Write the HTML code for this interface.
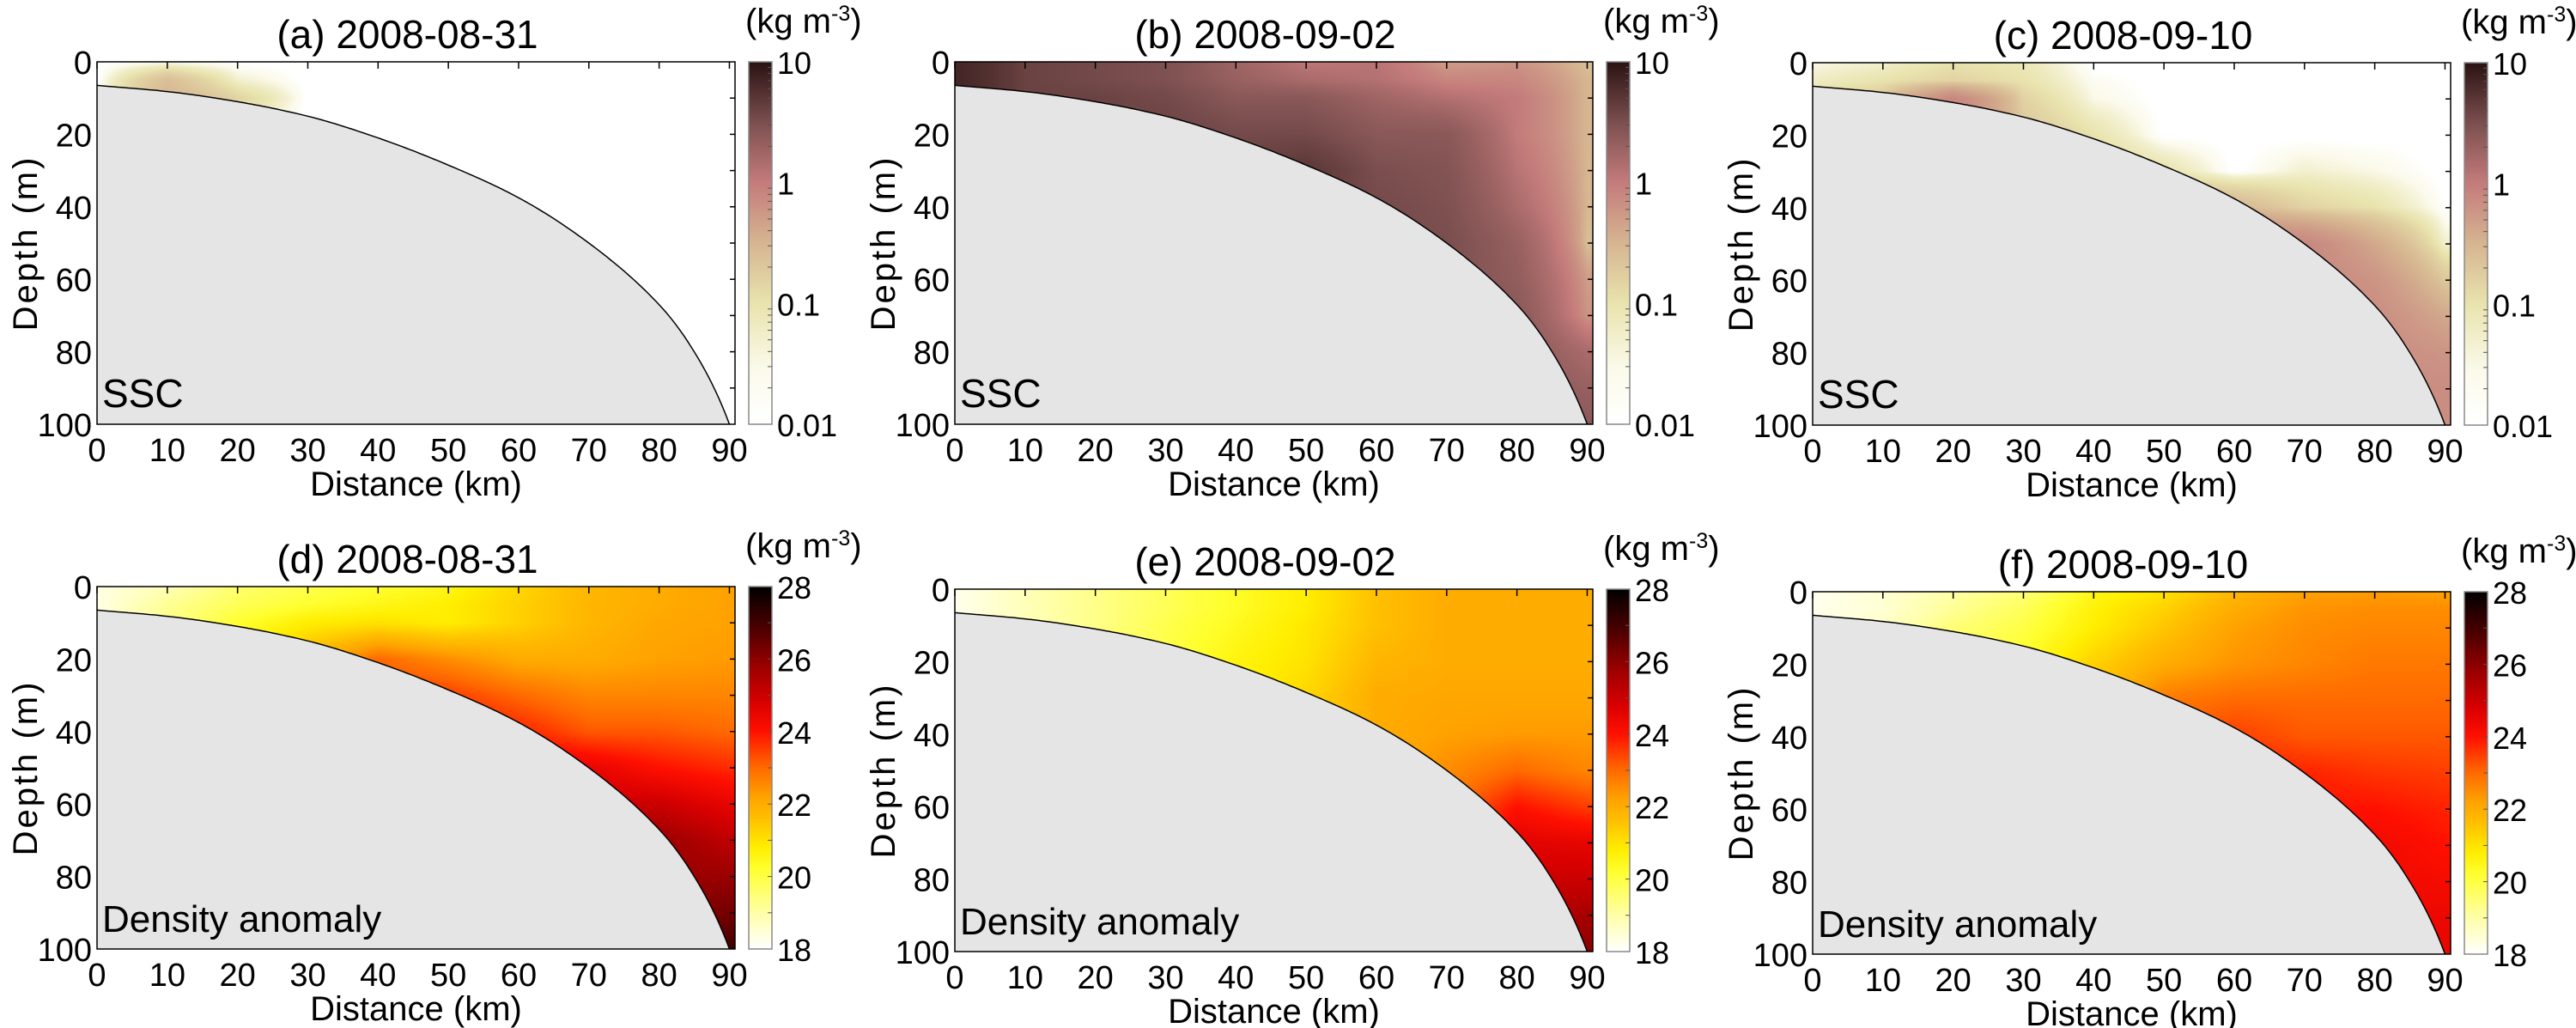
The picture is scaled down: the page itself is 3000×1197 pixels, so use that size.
<!DOCTYPE html>
<html><head><meta charset="utf-8">
<style>
html,body{margin:0;padding:0;background:#fff;}
#wrap{position:relative;width:3000px;height:1197px;overflow:hidden;}
canvas,svg{position:absolute;left:0;top:0;}
text{font-family:"Liberation Sans",Arial,sans-serif;fill:#000;}
</style></head>
<body>
<div id="wrap">
<canvas id="cv" width="3000" height="1197"></canvas>
<svg id="sv" width="3000" height="1197" xmlns="http://www.w3.org/2000/svg"></svg>
</div>
<script>
// ---- data ----
const distances = [0,10,20,30,40,50,60,70,80,90];
const depthLevels = [0,5,10,20,30,40,50,60,70,80,90,100];
const bathyDist = [0,10,20,30,40,50,60,70,80,85,90];
const bathyDepth = [6.5,8.2,11,15,21,28.5,37.5,50,67,80,100];
const xTicks = [0,10,20,30,40,50,60,70,80,90];
const yTicks = [0,20,40,60,80,100];
const sscTicks = [10,1,0.1,0.01];
const sscTickLabels = ["10","1","0.1","0.01"];
const rhoTicks = [28,26,24,22,20,18];

const sscA = [
[0.004,0.015,0.006,0.004,0.004,0.004,0.004,0.004,0.004,0.004],
[0.004,0.25,0.05,0.004,0.004,0.004,0.004,0.004,0.004,0.004],
[0.004,0.3,0.15,0.004,0.004,0.004,0.004,0.004,0.004,0.004],
[0.004,0.004,0.004,0.004,0.004,0.004,0.004,0.004,0.004,0.004],
[0.004,0.004,0.004,0.004,0.004,0.004,0.004,0.004,0.004,0.004],
[0.004,0.004,0.004,0.004,0.004,0.004,0.004,0.004,0.004,0.004],
[0.004,0.004,0.004,0.004,0.004,0.004,0.004,0.004,0.004,0.004],
[0.004,0.004,0.004,0.004,0.004,0.004,0.004,0.004,0.004,0.004],
[0.004,0.004,0.004,0.004,0.004,0.004,0.004,0.004,0.004,0.004],
[0.004,0.004,0.004,0.004,0.004,0.004,0.004,0.004,0.004,0.004],
[0.004,0.004,0.004,0.004,0.004,0.004,0.004,0.004,0.004,0.004],
[0.004,0.004,0.004,0.004,0.004,0.004,0.004,0.004,0.004,0.004]];
const sscB = [
[7,4,3.5,3,1.8,1.1,1.2,0.5,0.6,0.25],
[7,4,3.5,3,2,1.5,1.3,0.8,0.8,0.3],
[7,4,4,3.5,2.5,2.5,1.8,1.3,1.0,0.3],
[7,4,4,4,3.5,3.5,2.5,2.5,1.0,0.3],
[4,4,4,4,4,5,3.2,2.8,1.2,0.3],
[4,4,4,4,4,4,3.5,3,1.5,0.3],
[4,4,4,4,4,4,3.5,3.2,2,0.25],
[4,4,4,4,4,4,3,3,2.2,0.5],
[4,4,4,4,4,4,3,3,2.5,0.6],
[4,4,4,4,4,4,3,3,2.5,1.5],
[4,4,4,4,4,4,3,3,2.5,2],
[4,4,4,4,4,4,3,3,2.5,2.5]];
const sscC = [
[0.03,0.05,0.1,0.08,0.004,0.004,0.004,0.004,0.004,0.004],
[0.06,0.1,0.15,0.1,0.02,0.004,0.004,0.004,0.004,0.004],
[0.1,0.2,0.8,0.15,0.03,0.004,0.004,0.004,0.004,0.004],
[0.1,0.3,0.8,0.2,0.1,0.004,0.004,0.004,0.004,0.004],
[0.1,0.3,0.8,0.2,0.15,0.1,0.004,0.05,0.03,0.004],
[0.1,0.3,0.8,0.2,0.15,0.3,0.3,0.15,0.1,0.01],
[0.1,0.3,0.8,0.2,0.15,0.3,0.8,0.8,0.4,0.05],
[0.1,0.3,0.8,0.2,0.15,0.3,0.8,0.8,0.6,0.2],
[0.1,0.3,0.8,0.2,0.15,0.3,0.8,0.8,0.7,0.4],
[0.1,0.3,0.8,0.2,0.15,0.3,0.8,0.8,0.7,0.6],
[0.1,0.3,0.8,0.2,0.15,0.3,0.8,0.8,0.7,0.7],
[0.1,0.3,0.8,0.2,0.15,0.3,0.8,0.8,0.7,0.7]];
const rhoD = [
[18.3,18.8,19.6,19.9,20.2,20.5,21.2,21.8,22,22.2],
[18.3,19.2,19.8,20.2,20.5,20.8,21.3,21.8,22,22.2],
[18.3,19.3,20.2,20.8,21,20.8,21.3,21.8,22.1,22.2],
[18.3,19.3,20.5,21.8,23,22.5,22,22,22.2,22.3],
[18.3,19.3,20.5,22,23.5,23.5,23,22.6,22.6,22.6],
[18.3,19.3,20.5,22,23.5,24,23.8,23.2,23.2,23],
[18.3,19.3,20.5,22,23.5,24,24.5,24.5,24,23.7],
[18.3,19.3,20.5,22,23.5,24,24.5,25,25,24.5],
[18.3,19.3,20.5,22,23.5,24,24.5,25,25.8,25.2],
[18.3,19.3,20.5,22,23.5,24,24.5,25,25.8,25.8],
[18.3,19.3,20.5,22,23.5,24,24.5,25,26,26.3],
[18.3,19.3,20.5,22,23.5,24,24.5,25,26,27]];
const rhoE = [
[18.2,18.8,19.3,19.8,20.3,20.8,21.6,22,22,22],
[18.2,18.8,19.3,19.8,20.3,20.8,21.6,22,22,22],
[18.2,18.8,19.3,19.9,20.4,20.9,21.6,22,22,22],
[18.2,18.8,19.3,20,20.6,21,21.8,22,22,22],
[18.2,18.8,19.3,20,20.6,21.2,22,22.1,22.1,22.1],
[18.2,18.8,19.3,20,20.6,21.2,22,22.2,22.3,22.3],
[18.2,18.8,19.3,20,20.6,21.2,22,22.5,23,22.6],
[18.2,18.8,19.3,20,20.6,21.2,22,22.8,24,23.5],
[18.2,18.8,19.3,20,20.6,21.2,22,23,24.6,24.5],
[18.2,18.8,19.3,20,20.6,21.2,22,23,25,25],
[18.2,18.8,19.3,20,20.6,21.2,22,23,25.2,25.6],
[18.2,18.8,19.3,20,20.6,21.2,22,23,25.2,26]];
const rhoF = [
[18.2,18.5,19,19.5,20.5,21,21.8,22.2,22.3,22.2],
[18.2,18.5,19.2,19.8,20.7,21.3,22,22.4,22.5,22.5],
[18.2,18.6,19.5,20,20.8,21.5,22.2,22.5,22.6,22.6],
[18.2,18.6,19.5,20.3,21.3,22,22.4,22.6,22.8,22.8],
[18.2,18.6,19.5,20.3,21.5,22.8,23,23,23,23],
[18.2,18.6,19.5,20.3,21.5,23,23.5,23.2,23.2,23.2],
[18.2,18.6,19.5,20.3,21.5,23,23.8,23.8,23.6,23.5],
[18.2,18.6,19.5,20.3,21.5,23,23.8,24,24,23.8],
[18.2,18.6,19.5,20.3,21.5,23,23.8,24,24.3,24],
[18.2,18.6,19.5,20.3,21.5,23,23.8,24,24.3,24.2],
[18.2,18.6,19.5,20.3,21.5,23,23.8,24,24.3,24.4],
[18.2,18.6,19.5,20.3,21.5,23,23.8,24,24.3,24.5]];

const panelTitles = ["(a) 2008-08-31","(b) 2008-09-02","(c) 2008-09-10","(d) 2008-08-31","(e) 2008-09-02","(f) 2008-09-10"];

const sscStops = [[0,"#ffffff"],[0.15,"#fbfaeb"],[0.33,"#e9e4ae"],[0.5,"#d6b591"],[0.667,"#c47b7b"],[0.83,"#7d5050"],[1,"#2a1212"]];
const rhoStops = [[0,"#ffffff"],[0.1,"#ffffa8"],[0.22,"#ffff30"],[0.28,"#ffee00"],[0.36,"#ffc000"],[0.42,"#ffa200"],[0.5,"#ff6a00"],[0.6,"#ff1000"],[0.68,"#d80000"],[0.78,"#9a0000"],[0.88,"#500000"],[1,"#000000"]];

const colX = [113,1112,2111];
const rowTop = [[72,72,73],[683,686,689]];
const PW = 743, PH = 422, XMAX = 90.8;
const NS = "http://www.w3.org/2000/svg";
const sv = document.getElementById('sv');
const ctx = document.getElementById('cv').getContext('2d');

function hex(h){return [parseInt(h.substr(1,2),16),parseInt(h.substr(3,2),16),parseInt(h.substr(5,2),16)];}
function cmap(stops,t){
  t=Math.max(0,Math.min(1,t));
  for(let i=1;i<stops.length;i++){ if(t<=stops[i][0]){const a=hex(stops[i-1][1]),b=hex(stops[i][1]);const f=(t-stops[i-1][0])/(stops[i][0]-stops[i-1][0]);return [0,1,2].map(k=>Math.round(a[k]+(b[k]-a[k])*f));}}
  return hex(stops[stops.length-1][1]);
}
function interpGrid(g,x,d){
  let i=Math.min(8,Math.max(0,Math.floor(x/10)));let fx=Math.max(0,Math.min(1,(x-distances[i])/10));
  let j=0;while(j<depthLevels.length-2&&d>depthLevels[j+1])j++;
  let fy=Math.max(0,Math.min(1,(d-depthLevels[j])/(depthLevels[j+1]-depthLevels[j])));
  const v00=g[j][i],v10=g[j][i+1],v01=g[j+1][i],v11=g[j+1][i+1];
  return (v00*(1-fx)+v10*fx)*(1-fy)+(v01*(1-fx)+v11*fx)*fy;
}
const bn=bathyDist.length;
const bSlope=(function(){const dk=[],m=[];for(let i=0;i<bn-1;i++)dk.push((bathyDepth[i+1]-bathyDepth[i])/(bathyDist[i+1]-bathyDist[i]));
  m.push(dk[0]);for(let i=1;i<bn-1;i++){m.push(dk[i-1]*dk[i]<=0?0:2/(1/dk[i-1]+1/dk[i]));}
  m.push(dk[bn-2]*1.3);return m;})();
function bathy(x){
  if(x>=90)return 100;
  for(let i=1;i<bn;i++) if(x<=bathyDist[i]){const h=bathyDist[i]-bathyDist[i-1];const t=(x-bathyDist[i-1])/h;
    const h00=2*t*t*t-3*t*t+1,h10=t*t*t-2*t*t+t,h01=-2*t*t*t+3*t*t,h11=t*t*t-t*t;
    return h00*bathyDepth[i-1]+h10*h*bSlope[i-1]+h01*bathyDepth[i]+h11*h*bSlope[i];}
  return 100;
}
function el(tag,attrs,txt){const e=document.createElementNS(NS,tag);for(const k in attrs)e.setAttribute(k,attrs[k]);if(txt!==undefined)e.textContent=txt;sv.appendChild(e);return e;}

function drawPanel(idx,grid,isSSC){
  const row=idx<3?0:1,col=idx%3;
  const L=colX[col],T=rowTop[row][col];
  const sx=x=>L+x/XMAX*PW, sy=d=>T+d/100*PH;
  const img=ctx.createImageData(PW,PH);
  for(let py=0;py<PH;py++){const d=(py+0.5)/PH*100;
    for(let px=0;px<PW;px++){const x=(px+0.5)/PW*XMAX;
      let v=interpGrid(grid,x,d);
      let t=isSSC?(Math.log10(Math.max(v,1e-4))+2)/3:(v-18)/10;
      const c=cmap(isSSC?sscStops:rhoStops,t);
      const o=(py*PW+px)*4;img.data[o]=c[0];img.data[o+1]=c[1];img.data[o+2]=c[2];img.data[o+3]=255;}}
  ctx.putImageData(img,L,T);
  let pts=[];for(let x=0;x<=90;x+=0.5)pts.push(sx(x).toFixed(1)+","+sy(bathy(x)).toFixed(1));
  const poly=el('polygon',{points:pts.join(" ")+" "+sx(0)+","+sy(100),fill:"#e5e5e5",stroke:"none"});
  
  const line=el('polyline',{points:pts.join(" "),fill:"none",stroke:"#000","stroke-width":1.5});
  
  const fr=el('rect',{x:L,y:T,width:PW,height:PH,fill:"none",stroke:"#000","stroke-width":1.5});
  
  xTicks.forEach(v=>{
    const tk=el('line',{x1:sx(v),x2:sx(v),y1:T,y2:T+8,stroke:"#000","stroke-width":1.5});
    
    const tl=el('text',{x:sx(v),y:T+PH+43,"font-size":38,"text-anchor":"middle"},String(v));
    
  });
  for(let v=10;v<100;v+=10){
    const tk=el('line',{x1:L+PW,x2:L+PW-6,y1:sy(v),y2:sy(v),stroke:"#000","stroke-width":1.5});
    
  }
  yTicks.forEach(v=>{
    const tl=el('text',{x:L-6,y:sy(v)+14,"font-size":38,"text-anchor":"end"},String(v));
    
  });
  const xt=el('text',{x:L+PW/2,y:T+PH+83,"font-size":40,"text-anchor":"middle"},"Distance (km)");
  
  const yt=el('text',{x:0,y:0,"font-size":40,"text-anchor":"middle","letter-spacing":"3",transform:`translate(${L-70},${T+PH/2}) rotate(-90)`},"Depth (m)");
  
  const ti=el('text',{x:L+PW/2-10,y:T-16,"font-size":46,"text-anchor":"middle"},panelTitles[idx]);
  
  const vl=el('text',{x:L+6,y:T+PH-20,"font-size":isSSC?46:44},isSSC?"SSC":"Density anomaly");
  
  const CL=L+PW+16,CW=27;
  const gid='g'+idx;
  const defs=el('defs',{});
  const lg=document.createElementNS(NS,'linearGradient');lg.setAttribute('id',gid);lg.setAttribute('x1','0');lg.setAttribute('y1','1');lg.setAttribute('x2','0');lg.setAttribute('y2','0');
  (isSSC?sscStops:rhoStops).forEach(s=>{const st=document.createElementNS(NS,'stop');st.setAttribute('offset',s[0]);st.setAttribute('stop-color',s[1]);lg.appendChild(st);});
  defs.appendChild(lg);
  const cb=el('rect',{x:CL,y:T,width:CW,height:PH,fill:`url(#${gid})`,stroke:"#888","stroke-width":1.5});
  
  if(isSSC){
    sscTicks.forEach((v,k)=>{const y=T+(1-(Math.log10(v)+2)/3)*PH;
      const tl=el('text',{x:CL+CW+6,y:y+14,"font-size":36},sscTickLabels[k]);
      });
    for(let e=-2;e<1;e++)for(let m=2;m<10;m++){const y=T+(1-(Math.log10(m*Math.pow(10,e))+2)/3)*PH;
      const tk=el('line',{x1:CL+CW,x2:CL+CW-5,y1:y,y2:y,stroke:"#555","stroke-width":1});
      }
  } else {
    rhoTicks.forEach(v=>{const y=T+(1-(v-18)/10)*PH;
      const tl=el('text',{x:CL+CW+6,y:y+14,"font-size":36},String(v));
      });
    for(let v=19;v<28;v++){const y=T+(1-(v-18)/10)*PH;
      const tk=el('line',{x1:CL+CW,x2:CL+CW-5,y1:y,y2:y,stroke:"#555","stroke-width":1});
      }
  }
  const u=el('text',{x:CL-4,y:T-34,"font-size":40},"(kg m");
  
  const sup=document.createElementNS(NS,'tspan');sup.setAttribute('dy','-14');sup.setAttribute('font-size','25');sup.textContent='-3';u.appendChild(sup);
  const cl=document.createElementNS(NS,'tspan');cl.setAttribute('dy','14');cl.textContent=')';u.appendChild(cl);
}
drawPanel(0,sscA,true);
drawPanel(1,sscB,true);
drawPanel(2,sscC,true);
drawPanel(3,rhoD,false);
drawPanel(4,rhoE,false);
drawPanel(5,rhoF,false);
</script>
</body></html>
